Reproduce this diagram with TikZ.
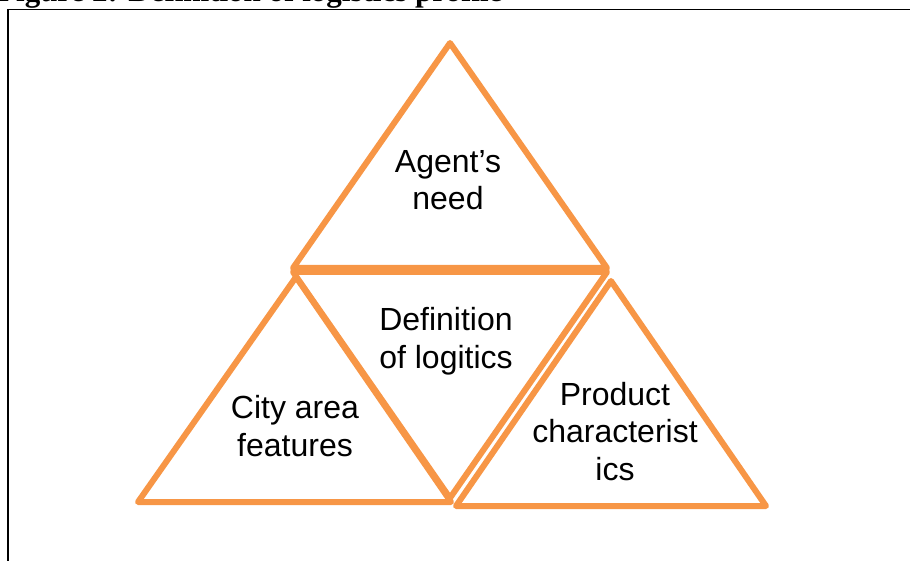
\documentclass[tikz,border=0pt]{standalone}
\usepackage{fontspec}
\setmainfont{Liberation Sans}
\newfontfamily\capfont{Liberation Serif}
\usetikzlibrary{positioning}
\definecolor{accent}{RGB}{247,150,70}

\begin{document}
\begin{tikzpicture}[x=1pt, y=-1pt,
  tri/.style={draw=accent, line width=6pt, line join=round},
  txt/.style={font=\fontsize{32}{37.5}\selectfont, align=center,
    inner sep=0pt, anchor=base},
]
\useasboundingbox (0,0) rectangle (910,561);

% caption and frame (both run off the page)
\node[font=\capfont\bfseries\fontsize{31}{36}\selectfont, anchor=base west,
  inner sep=0pt] (caption) at (-3,1.5) {Figure 2: Definition of logistics profile};
\draw[line width=1.5pt] (8,9.5) rectangle (1000,700);

% corners of the four triangles
\coordinate (top) at (450,43);
\coordinate (topL) at (293,268);
\coordinate (topR) at (607,268);
\coordinate (midL) at (293,272);
\coordinate (midR) at (607,272);
\coordinate (midB) at (450,498);
\coordinate (leftT) at (296,277);
\coordinate (leftL) at (138,502);
\coordinate (leftR) at (451,502);
\coordinate (rightT) at (611,281);
\coordinate (rightL) at (456,506);
\coordinate (rightR) at (766,506);

\draw[tri] (top) -- (topL) -- (topR) -- cycle;
\draw[tri] (midL) -- (midR) -- (midB) -- cycle;
\draw[tri] (leftT) -- (leftL) -- (leftR) -- cycle;
\draw[tri] (rightT) -- (rightL) -- (rightR) -- cycle;

% labels sit on the baseline of their last line
\node[txt] (need) at (448,210) {Agent’s\\need};
\node[txt] (defn) at (446,368) {Definition\\of logitics};
\node[txt] (city) at (295,456) {City area\\features};
\node[txt] (prod) at (615,480) {Product\\characterist\\ics};
\end{tikzpicture}
\end{document}
